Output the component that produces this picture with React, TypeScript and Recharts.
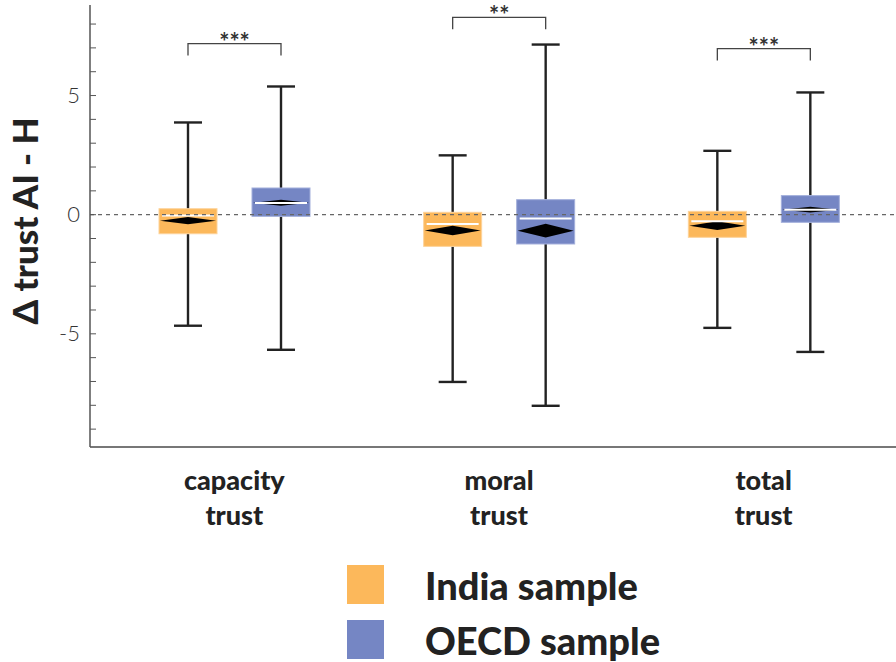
import React from 'react';
import { ComposedChart, Bar, XAxis, YAxis, ReferenceLine, Legend } from 'recharts';

// categories (two-line labels)
const catTop = ['capacity', 'moral', 'total'];
const catBottom = ['trust', 'trust', 'trust'];

// India sample box stats
const indiaMin = [-4.66, -7.02, -4.75];
const indiaQ1 = [-0.8, -1.33, -0.95];
const indiaMed = [-0.03, -0.39, -0.28];
const indiaQ3 = [0.25, 0.1, 0.14];
const indiaMax = [3.87, 2.49, 2.68];
const indiaMean = [-0.25, -0.66, -0.46];
const indiaCI = [0.15, 0.2, 0.18];

// OECD sample box stats
const oecdMin = [-5.67, -8.02, -5.76];
const oecdQ1 = [-0.07, -1.23, -0.32];
const oecdMed = [0.49, -0.16, 0.21];
const oecdQ3 = [1.12, 0.63, 0.8];
const oecdMax = [5.38, 7.14, 5.13];
const oecdMean = [0.5, -0.67, 0.21];
const oecdCI = [0.13, 0.29, 0.12];

// significance brackets
const sigLabel = ['***', '**', '***'];
const sigLevel = [7.18, 8.28, 6.97];

const yMajor = [-5, 0, 5];
const yMinor = [-9, -8, -7, -6, -5, -4, -3, -2, -1, 0, 1, 2, 3, 4, 5, 6, 7, 8];

const INDIA = '#fcb85b';
const OECD = '#7586c4';
const BAR_SIZE = 58;
const BAR_GAP = 35;
const FONT = 'Lato, "Open Sans", sans-serif';

const data = catTop.map((c, i) => ({
  cat: c,
  india: { min: indiaMin[i], q1: indiaQ1[i], med: indiaMed[i], q3: indiaQ3[i], max: indiaMax[i], mean: indiaMean[i], ci: indiaCI[i] },
  oecd: { min: oecdMin[i], q1: oecdQ1[i], med: oecdMed[i], q3: oecdQ3[i], max: oecdMax[i], mean: oecdMean[i], ci: oecdCI[i] },
  sig: sigLabel[i],
  sigY: sigLevel[i],
}));

function BoxShape(props: any) {
  const { x, y, width, height, payload, group, color, edge } = props;
  const s = payload[group];
  const top = Math.min(y, y + height);
  const h = Math.abs(height);
  const k = h / (s.q3 - s.q1);
  const toY = (v: number) => top + (s.q3 - v) * k;
  const cx = x + width / 2;
  const cap = 14;
  const step = BAR_SIZE + BAR_GAP;
  return (
    <g>
      <line x1={cx} x2={cx} y1={toY(s.max)} y2={top} stroke="#222" strokeWidth={2.4} />
      <line x1={cx} x2={cx} y1={top + h} y2={toY(s.min)} stroke="#222" strokeWidth={2.4} />
      <line x1={cx - cap} x2={cx + cap} y1={toY(s.max)} y2={toY(s.max)} stroke="#222" strokeWidth={2.4} />
      <line x1={cx - cap} x2={cx + cap} y1={toY(s.min)} y2={toY(s.min)} stroke="#222" strokeWidth={2.4} />
      <rect x={x} y={top} width={width} height={h} fill={color} stroke={edge} strokeWidth={1} />
      <polygon
        points={`${x + 1},${toY(s.mean)} ${cx},${toY(s.mean + s.ci)} ${x + width - 1},${toY(s.mean)} ${cx},${toY(s.mean - s.ci)}`}
        fill="#000"
      />
      <line x1={x + 3} x2={x + width - 3} y1={toY(s.med)} y2={toY(s.med)} stroke="#fff" strokeWidth={2} />
      {group === 'oecd' && (
        <g>
          <path
            d={`M${cx - step},${toY(payload.sigY - 0.5)} V${toY(payload.sigY)} H${cx} V${toY(payload.sigY - 0.5)}`}
            fill="none"
            stroke="#444"
            strokeWidth={1.3}
          />
          <text x={cx - step / 2} y={toY(payload.sigY) + 7} textAnchor="middle" fontSize={24} fontWeight={700} fill="#333" fontFamily={FONT}>
            {payload.sig}
          </text>
        </g>
      )}
    </g>
  );
}

function XTick(props: any) {
  const { x, y, index } = props;
  return (
    <text x={x} textAnchor="middle" fontSize={27} fontWeight={900} fill="#222" fontFamily={FONT}>
      <tspan x={x} y={y + 43}>{catTop[index]}</tspan>
      <tspan x={x} y={y + 78}>{catBottom[index]}</tspan>
    </text>
  );
}

function YTick(props: any) {
  const { x, y, payload } = props;
  const major = yMajor.includes(payload.value);
  return (
    <g>
      <line x1={x} x2={x + 6} y1={y} y2={y} stroke="#555" strokeWidth={1} />
      {major && (
        <text x={x - 10} y={y + 7} textAnchor="end" fontSize={22} fontWeight={300} fill="#333" fontFamily={FONT}>
          {payload.value}
        </text>
      )}
    </g>
  );
}

function LegendContent(props: any) {
  const { payload } = props;
  return (
    <div>
      {(payload || []).map((p: any) => (
        <div key={p.value} style={{ display: 'flex', alignItems: 'center', height: 55 }}>
          <div style={{ width: 37, height: 39, background: p.color, marginRight: 41 }} />
          <span style={{ fontFamily: FONT, fontWeight: 900, fontSize: 38, color: '#222' }}>{p.value}</span>
        </div>
      ))}
    </div>
  );
}

export default function App() {
  return (
    <div style={{ position: 'absolute', left: 0, top: 0, width: 896, height: 662, background: '#fff' }}>
      <ComposedChart
        width={896}
        height={662}
        data={data}
        margin={{ top: 5, right: 0, bottom: 0, left: 0 }}
        barSize={BAR_SIZE}
        barGap={BAR_GAP}
      >
        <XAxis
          dataKey="cat"
          height={215}
          tick={<XTick />}
          tickLine={false}
          tickSize={0}
          tickMargin={0}
          padding={{ left: 12, right: 0 }}
          axisLine={{ stroke: '#777', strokeWidth: 2 }}
          interval={0}
        />
        <YAxis
          width={90}
          type="number"
          domain={[-9.75, 8.8]}
          ticks={yMinor}
          interval={0}
          tick={<YTick />}
          tickLine={false}
          tickSize={0}
          tickMargin={0}
          axisLine={{ stroke: '#555', strokeWidth: 1.5 }}
          allowDataOverflow
        />
        <text
          transform="translate(38, 221) rotate(-90)"
          textAnchor="middle"
          fontSize={35}
          fontWeight={900}
          fill="#222"
          fontFamily={FONT}
        >
          Δ trust AI - H
        </text>
        <ReferenceLine y={0} stroke="#666" strokeDasharray="4 4" strokeWidth={1.2} />
        <Bar
          name="India sample"
          dataKey={(d: any) => [d.india.q1, d.india.q3]}
          fill={INDIA}
          isAnimationActive={false}
          shape={(p: any) => <BoxShape {...p} group="india" color={INDIA} edge="#fdd39a" />}
        />
        <Bar
          name="OECD sample"
          dataKey={(d: any) => [d.oecd.q1, d.oecd.q3]}
          fill={OECD}
          isAnimationActive={false}
          shape={(p: any) => <BoxShape {...p} group="oecd" color={OECD} edge="#a3afdb" />}
        />
        <Legend
          layout="vertical"
          align="center"
          verticalAlign="middle"
          wrapperStyle={{ position: 'absolute', left: 347, top: 557, width: 340 }}
          content={<LegendContent />}
        />
      </ComposedChart>
    </div>
  );
}
